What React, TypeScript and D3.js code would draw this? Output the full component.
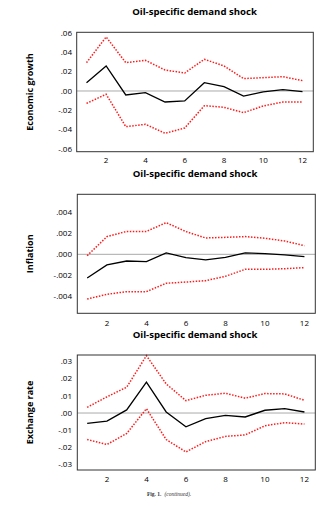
import React from "react";
import * as d3 from "d3";

const periods = [1, 2, 3, 4, 5, 6, 7, 8, 9, 10, 11, 12];

const growthMid = [0.0086, 0.0259, -0.0041, -0.0017, -0.0114, -0.0103, 0.0086, 0.0045, -0.0052, -0.001, 0.0014, -0.0007];
const growthUp = [0.0293, 0.0559, 0.0293, 0.0317, 0.0217, 0.0186, 0.0328, 0.0259, 0.0128, 0.0138, 0.0148, 0.0107];
const growthLo = [-0.0128, -0.0034, -0.0369, -0.0345, -0.0438, -0.0383, -0.0152, -0.0169, -0.0224, -0.0155, -0.0114, -0.0114];
const growthTicks = [0.06, 0.04, 0.02, 0, -0.02, -0.04, -0.06];

const inflMid = [-0.00227, -0.00102, -0.00064, -0.0007, 0.00013, -0.00032, -0.00054, -0.00029, 0.00013, 0.00006, -0.00006, -0.00022];
const inflUp = [-0.00013, 0.0017, 0.0022, 0.0022, 0.00304, 0.00218, 0.00157, 0.00163, 0.0017, 0.00154, 0.00128, 0.00083];
const inflLo = [-0.00429, -0.00384, -0.00358, -0.00358, -0.00278, -0.00266, -0.00253, -0.00211, -0.00144, -0.00144, -0.00138, -0.00128];
const inflTicks = [0.004, 0.002, 0, -0.002, -0.004];

const fxMid = [-0.006, -0.0047, 0.0018, 0.0179, 0.0006, -0.008, -0.0033, -0.0014, -0.0023, 0.0016, 0.0025, 0.0006];
const fxUp = [0.0033, 0.0094, 0.015, 0.0333, 0.0169, 0.0072, 0.0103, 0.0115, 0.0086, 0.0113, 0.0111, 0.0074];
const fxLo = [-0.0154, -0.0183, -0.0119, 0.0025, -0.0154, -0.0226, -0.0166, -0.0136, -0.0127, -0.0074, -0.0056, -0.0064];
const fxTicks = [0.03, 0.02, 0.01, 0, -0.01, -0.02, -0.03];

const xTicks = [2, 4, 6, 8, 10, 12];
const titleText = "Oil-specific demand shock";
const captionBold = "Fig. 1.";
const captionItalic = "(continued).";

const FONT = "'Open Sans', 'DejaVu Sans', sans-serif";

type PanelProps = {
  label: string;
  mid: number[];
  up: number[];
  lo: number[];
  ticks: number[];
  fmt: (v: number) => string;
  yDomain: [number, number];
  box: { left: number; right: number; top: number; bottom: number };
  xLabelY: number;
  yTitleX: number;
};

function Panel(p: PanelProps) {
  const x = d3.scaleLinear().domain([0.5, 12.55]).range([p.box.left, p.box.right]);
  const y = d3.scaleLinear().domain(p.yDomain).range([p.box.bottom, p.box.top]);
  const line = d3
    .line<number>()
    .x((_, i) => x(periods[i]))
    .y((d) => y(d));
  const yc = (p.box.top + p.box.bottom) / 2;
  return (
    <g>
      <line x1={p.box.left} x2={p.box.right} y1={y(0)} y2={y(0)} stroke="#aaaaaa" strokeWidth={1} />
      <path d={line(p.up) || ""} fill="none" stroke="#ff1a1a" strokeWidth={1.5} strokeDasharray="1.5,1.5" />
      <path d={line(p.lo) || ""} fill="none" stroke="#ff1a1a" strokeWidth={1.5} strokeDasharray="1.5,1.5" />
      <path d={line(p.mid) || ""} fill="none" stroke="#000" strokeWidth={1.3} />
      <rect
        x={p.box.left}
        y={p.box.top}
        width={p.box.right - p.box.left}
        height={p.box.bottom - p.box.top}
        fill="none"
        stroke="#333"
        strokeWidth={1}
      />
      {p.ticks.map((t) => (
        <text key={t} x={72} y={y(t)} dy="0.35em" textAnchor="end" fontSize={8} fontFamily={FONT} fill="#000">
          {p.fmt(t)}
        </text>
      ))}
      {xTicks.map((t) => (
        <text key={t} x={x(t)} y={p.xLabelY} textAnchor="middle" fontSize={8} fontFamily={FONT} fill="#000">
          {t}
        </text>
      ))}
      <text
        transform={`translate(${p.yTitleX},${yc}) rotate(-90)`}
        textAnchor="middle"
        fontSize={9}
        fontWeight="bold"
        fontFamily={FONT}
        fill="#000"
      >
        {p.label}
      </text>
    </g>
  );
}

const fmt2 = (v: number) => (v < 0 ? "-" : "") + d3.format(".2f")(Math.abs(v)).replace(/^0/, "");
const fmt3 = (v: number) => (v < 0 ? "-" : "") + d3.format(".3f")(Math.abs(v)).replace(/^0/, "");

export default function App() {
  return (
    <svg width={327} height={510} style={{ position: "absolute", left: 0, top: 0, background: "#fff" }}>
      <text x={194.5} y={14.5} textAnchor="middle" fontSize={9.6} fontWeight="bold" fontFamily={FONT}>
        {titleText}
      </text>
      <text x={195} y={176.5} textAnchor="middle" fontSize={9.6} fontWeight="bold" fontFamily={FONT}>
        {titleText}
      </text>
      <text x={195} y={338} textAnchor="middle" fontSize={9.6} fontWeight="bold" fontFamily={FONT}>
        {titleText}
      </text>
      <Panel
        label="Economic growth"
        mid={growthMid}
        up={growthUp}
        lo={growthLo}
        ticks={growthTicks}
        fmt={fmt2}
        yDomain={[-0.0628, 0.0607]}
        box={{ left: 76.7, right: 313.3, top: 32.3, bottom: 151.7 }}
        xLabelY={163}
        yTitleX={33}
      />
      <Panel
        label="Inflation"
        mid={inflMid}
        up={inflUp}
        lo={inflLo}
        ticks={inflTicks}
        fmt={fmt3}
        yDomain={[-0.00566, 0.00576]}
        box={{ left: 77.3, right: 315.3, top: 194.3, bottom: 313.3 }}
        xLabelY={325.5}
        yTitleX={33}
      />
      <Panel
        label="Exchange rate"
        mid={fxMid}
        up={fxUp}
        lo={fxLo}
        ticks={fxTicks}
        fmt={fmt2}
        yDomain={[-0.0331, 0.0337]}
        box={{ left: 77.3, right: 315.3, top: 355, bottom: 470 }}
        xLabelY={482}
        yTitleX={33}
      />
      <text x={169} y={496} textAnchor="middle" fontSize={5.5} fontFamily="'Liberation Serif', serif" fill="#333">
        <tspan fontWeight="bold">{captionBold}</tspan>
        <tspan fontStyle="italic" dx={3}>{captionItalic}</tspan>
      </text>
    </svg>
  );
}
